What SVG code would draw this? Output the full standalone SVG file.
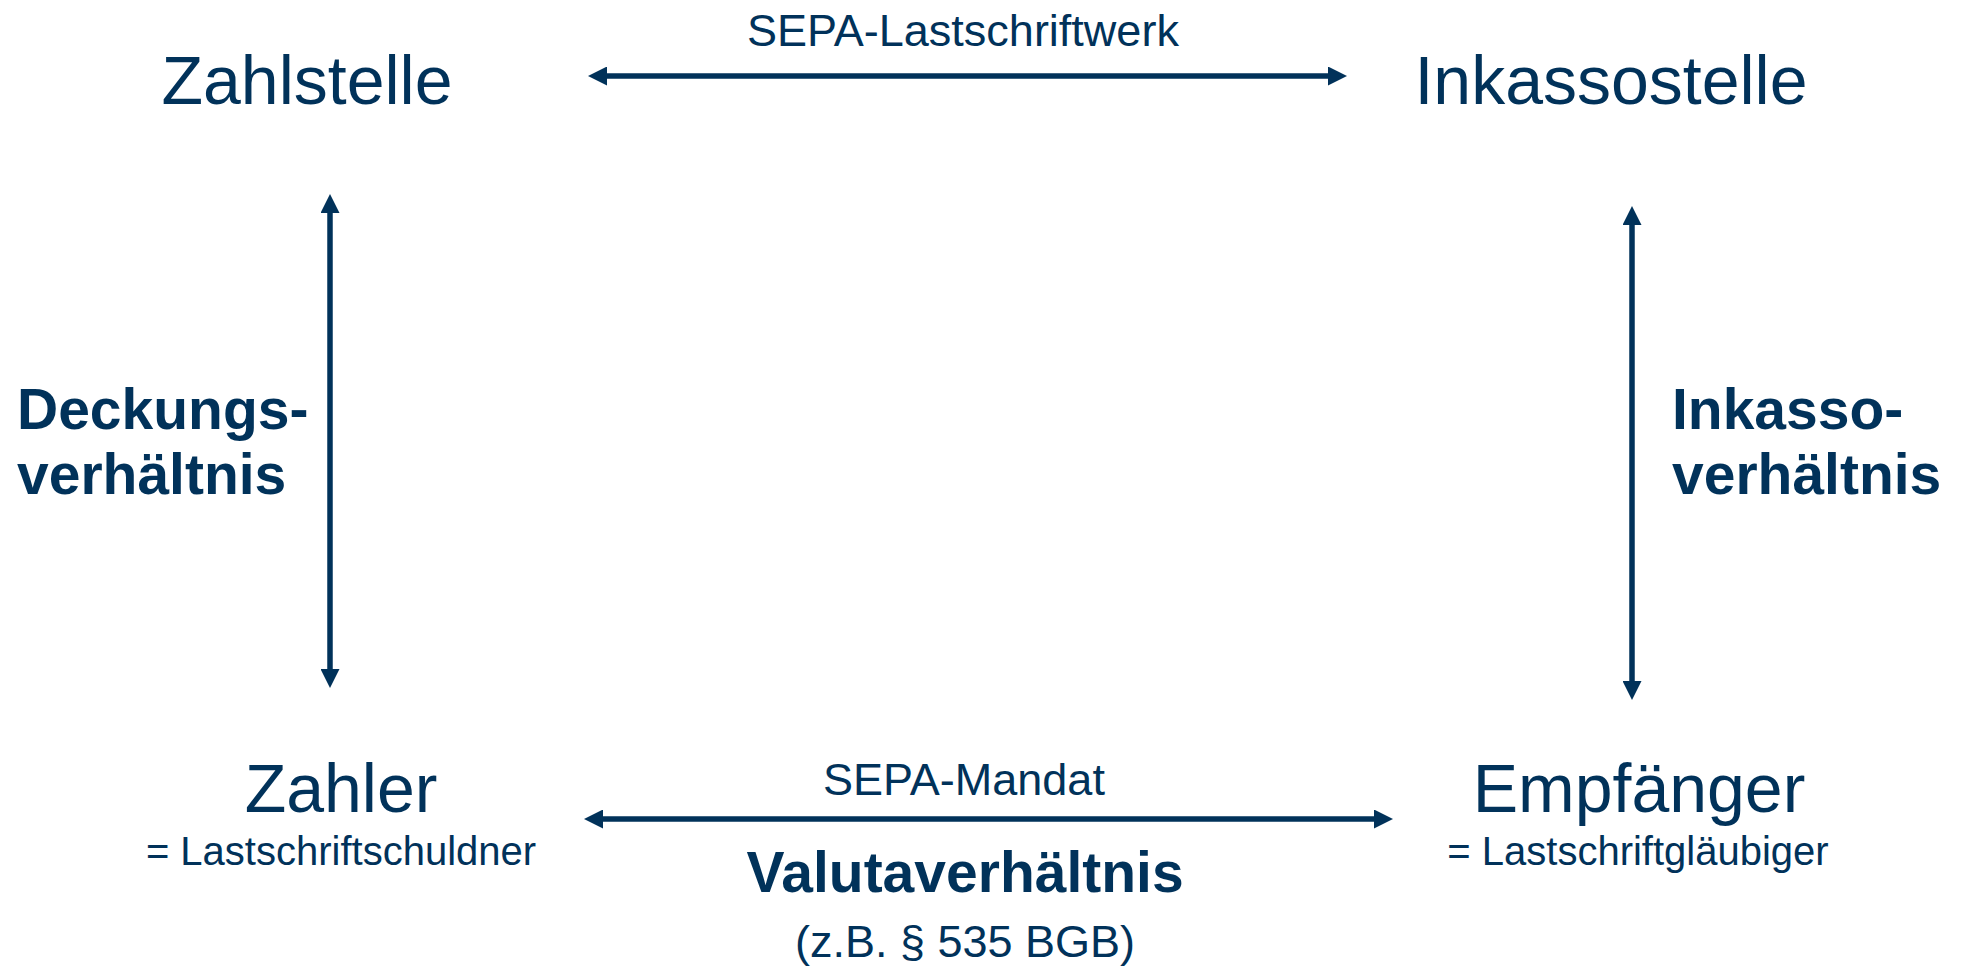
<svg xmlns="http://www.w3.org/2000/svg" width="1961" height="970" viewBox="0 0 1961 970">
<style>
text{font-family:"Liberation Sans",Arial,sans-serif;fill:#01325A}
.big{font-size:68px}
.mid{font-size:45px}
.small{font-size:40px}
.bold{font-size:57px;font-weight:bold}
.c{text-anchor:middle}
.conn{stroke:#01325A;stroke-width:5.5;fill:none;marker-start:url(#ah);marker-end:url(#ah)}
</style>
<defs>
<marker id="ah" markerUnits="userSpaceOnUse" markerWidth="19" markerHeight="19" viewBox="0 0 19 19" refX="9" refY="9.5" orient="auto-start-reverse">
<path d="M0,0 L19,9.5 L0,19 z" fill="#01325A"/>
</marker>
</defs>
<rect width="1961" height="970" fill="#ffffff"/>
<g id="connectors">
<line class="conn" x1="598" y1="76" x2="1337" y2="76"/>
<line class="conn" x1="594" y1="819" x2="1383" y2="819"/>
<line class="conn" x1="330" y1="204" x2="330" y2="678"/>
<line class="conn" x1="1632" y1="216" x2="1632" y2="690"/>
</g>
<g id="zahlstelle"><text class="big c" x="307" y="104">Zahlstelle</text></g>
<g id="inkassostelle"><text class="big c" x="1611" y="104">Inkassostelle</text></g>
<g id="zahler"><text class="big c" x="341" y="812">Zahler</text><text class="small c" x="341" y="865">= Lastschriftschuldner</text></g>
<g id="empfaenger"><text class="big c" x="1639" y="812">Empfänger</text><text class="small c" x="1638" y="865">= Lastschriftgläubiger</text></g>
<g id="labels">
<text class="mid c" x="963" y="46">SEPA-Lastschriftwerk</text>
<text class="mid c" x="964" y="795">SEPA-Mandat</text>
<text class="bold c" x="965" y="892">Valutaverhältnis</text>
<text class="mid c" x="965" y="957">(z.B. § 535 BGB)</text>
<text class="bold" x="17" y="429">Deckungs-</text>
<text class="bold" x="17" y="494">verhältnis</text>
<text class="bold" x="1672" y="429">Inkasso-</text>
<text class="bold" x="1672" y="494">verhältnis</text>
</g>
</svg>
